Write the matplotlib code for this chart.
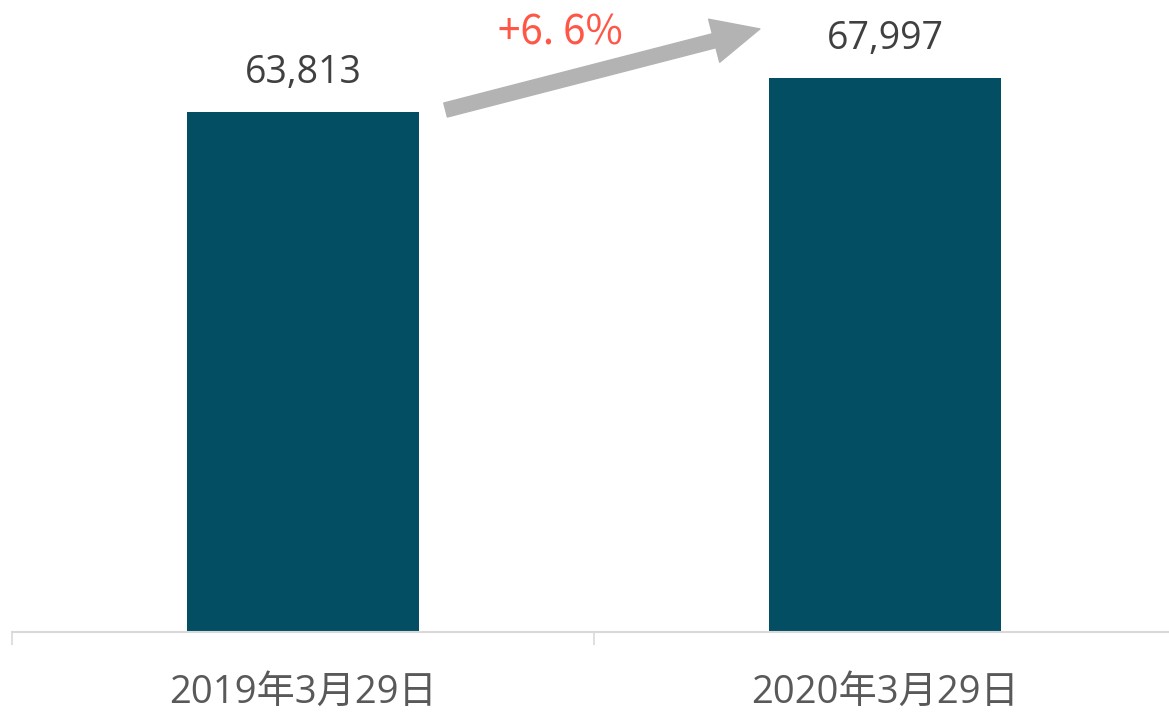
import matplotlib.pyplot as plt

dates = ['2019年3月29日', '2020年3月29日']
values = [63813, 67997]
growth = '+6. 6%'

bar_color = '#034E63'
fam = ['Open Sans', 'Noto Sans CJK SC', 'DejaVu Sans']

fig = plt.figure(figsize=(11.69, 7.13), dpi=100)
# the axis runs a little past the right edge, as in the original
ax = fig.add_axes([12 / 1169, 81 / 713, 1164 / 1169, 632 / 713])

x = range(len(dates))
bars = ax.bar(x, values, width=0.40, color=bar_color, zorder=2)

ax.set_xlim(-0.5, len(dates) - 0.5)
ax.set_ylim(0, 77550)

for xi, v in zip(x, values):
    ax.text(xi, v + 2400, f'{v:,}', ha='center', va='bottom',
            fontsize=27, color='#404040', family=fam)

# axis: boundaries get tick marks, categories get labels
ax.set_xticks([-0.5, 0.5, 1.5])
ax.set_xticklabels([])
ax.set_xticks(list(x), minor=True)
ax.set_xticklabels(dates, minor=True, fontsize=27.5, color='#595959', family=fam)
ax.tick_params(axis='x', which='major', length=9, width=1.2, color='#D9D9D9')
ax.tick_params(axis='x', which='minor', length=0, pad=30)
ax.set_yticks([])
for s in ['top', 'right', 'left']:
    ax.spines[s].set_visible(False)
ax.spines['bottom'].set_color('#D9D9D9')
ax.spines['bottom'].set_linewidth(1.5)

# growth arrow between the bars
ax.annotate('', xy=(0.785, 74000), xytext=(0.245, 64050),
            arrowprops=dict(arrowstyle='simple,head_length=1.7,head_width=1.6,tail_width=0.52',
                            color='#B3B3B3', mutation_scale=20, shrinkA=0, shrinkB=0))
ax.text(0.443, 73500, growth, ha='center', va='center', fontsize=29,
        color='#FF5747', family=['Noto Sans CJK SC', 'DejaVu Sans'])

plt.savefig('out.png', dpi=100)
